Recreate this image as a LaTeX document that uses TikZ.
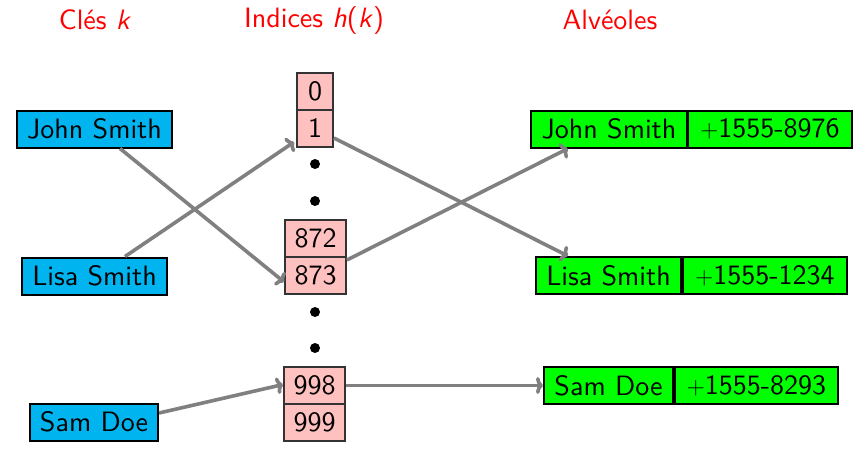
\documentclass[tikz,border=0pt]{standalone}
\usepackage{fontspec}
\setsansfont{lmsans10-regular.otf}[ItalicFont=lmsans10-oblique.otf,BoldFont=lmsans10-bold.otf]
\usetikzlibrary{arrows.meta}
\definecolor{keyblue}{RGB}{0,180,240}
\definecolor{idxpink}{RGB}{255,192,192}
\definecolor{slotgreen}{RGB}{0,255,0}
\definecolor{arrgray}{RGB}{128,128,128}
\begin{document}
\begin{tikzpicture}[x=1pt,y=-1pt,
  every node/.style={font=\sffamily\fontsize{28}{33}\selectfont},
  box/.style={draw=black,line width=2pt,minimum height=37pt,inner sep=0pt,anchor=center},
  keybox/.style={box,fill=keyblue},
  idxbox/.style={box,fill=idxpink,draw=black!80,line width=1.8pt},
  slotbox/.style={box,fill=slotgreen},
  title/.style={text=red},
  dotnode/.style={circle,fill=black,inner sep=0pt,minimum size=10pt},
  link/.style={draw=arrgray,line width=3.6pt,-{To[length=7pt,width=17pt]}}]
\useasboundingbox (0,0) rectangle (856,448);
% titles
\node[title] (t1) at (95,20) {Clés \textit{k}};
\node[title] (t2) at (314,20) {Indices \textit{h}(\textit{k})};
\node[title] (t3) at (610,20) {Alvéoles};
% keys
\node[keybox,minimum width=155pt] (kjs) at (94.5,129) {John Smith};
\node[keybox,minimum width=145pt] (kls) at (94.5,276) {Lisa Smith};
\node[keybox,minimum width=128pt] (ksd) at (94,422) {Sam Doe};
% indices
\node[idxbox,minimum width=36pt] (i0) at (315,91.5) {0};
\node[idxbox,minimum width=36pt] (i1) at (315,128.5) {1};
\node[idxbox,minimum width=61pt] (i872) at (315.5,238.5) {872};
\node[idxbox,minimum width=61pt] (i873) at (315.5,275.5) {873};
\node[idxbox,minimum width=61pt] (i998) at (314.5,385.5) {998};
\node[idxbox,minimum width=61pt] (i999) at (314.5,422.5) {999};
\node[dotnode] (d1) at (315,164) {};
\node[dotnode] (d2) at (315,201) {};
\node[dotnode] (d3) at (315,312) {};
\node[dotnode] (d4) at (315,348) {};
% slots
\node[slotbox,minimum width=156pt] (ajs) at (609,129) {John Smith};
\node[slotbox,minimum width=164pt] (pjs) at (770,129) {$+$1555-8976};
\node[slotbox,minimum width=145pt] (als) at (608.5,275.5) {Lisa Smith};
\node[slotbox,minimum width=164pt] (pls) at (765,275.5) {$+$1555-1234};
\node[slotbox,minimum width=129pt] (asd) at (608.5,385.5) {Sam Doe};
\node[slotbox,minimum width=163pt] (psd) at (756.5,385.5) {$+$1555-8293};
% links
\draw[link] ([xshift=25.5pt]kjs.south) -- ([yshift=-6.5pt]i873.west);
\draw[link] ([xshift=30.5pt]kls.north) -- ([xshift=-2pt,yshift=-13.5pt]i1.west);
\draw[link] ([yshift=-9.5pt]i1.east) -- ([xshift=-40.5pt]als.north);
\draw[link] ([yshift=15.5pt]i873.east) -- ([xshift=-41pt]ajs.south);
\draw[link] ([yshift=9pt]ksd.east) -- ([yshift=1pt]i998.west);
\draw[link] (i998.east) -- (asd.west);
\end{tikzpicture}
\end{document}
